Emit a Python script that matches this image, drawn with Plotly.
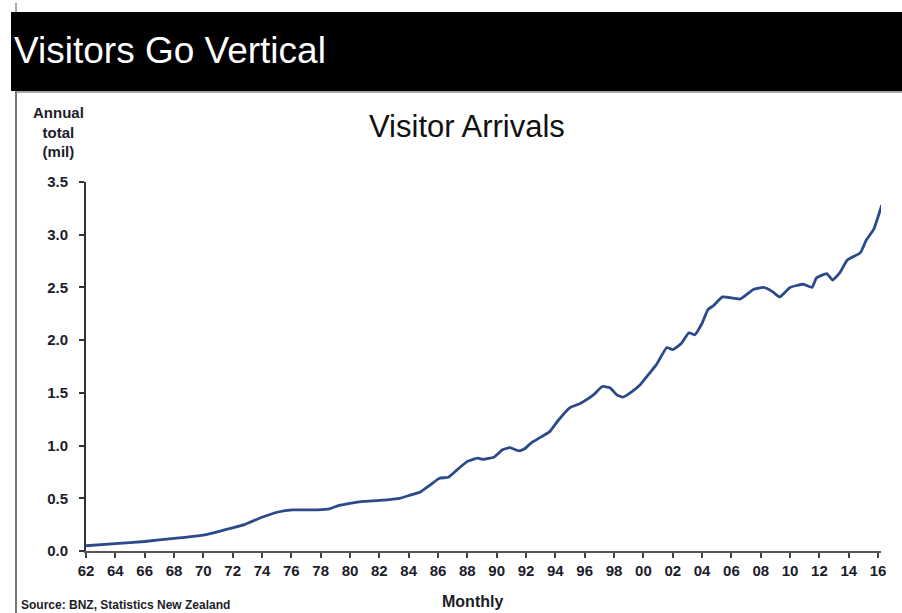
import plotly.graph_objects as go

# Visitor arrivals, annual total (millions)
years = [1962.0, 1964.0, 1966.0, 1968.0, 1968.75, 1970.0, 1972.0, 1972.8, 1974.0, 1975.1,
         1976.1, 1977.8, 1978.6, 1979.2, 1980.1, 1980.9, 1982.0, 1983.4, 1984.1, 1984.8,
         1985.5, 1986.1, 1986.7, 1987.3, 1988.0, 1988.7, 1989.1, 1989.8, 1990.4, 1990.9,
         1991.5, 1991.9, 1992.4, 1993.0, 1993.6, 1994.2, 1995.0, 1995.7, 1996.6, 1997.2,
         1997.7, 1998.2, 1998.6, 1999.2, 1999.8, 2000.5, 2000.9, 2001.6, 2002.0, 2002.6,
         2003.1, 2003.5, 2004.0, 2004.4, 2004.8, 2005.4, 2006.6, 2007.5, 2008.2, 2008.8,
         2009.3, 2010.0, 2010.9, 2011.5, 2011.8, 2012.5, 2012.9, 2013.4, 2013.9, 2014.8,
         2015.2, 2015.7, 2016.25]
arrivals = [0.05, 0.07, 0.09, 0.12, 0.13, 0.15, 0.22, 0.25, 0.32, 0.37,
            0.39, 0.39, 0.40, 0.43, 0.455, 0.47, 0.48, 0.50, 0.53, 0.56,
            0.63, 0.69, 0.70, 0.77, 0.85, 0.88, 0.87, 0.89, 0.96, 0.98,
            0.95, 0.97, 1.03, 1.08, 1.13, 1.24, 1.36, 1.40, 1.48, 1.56,
            1.55, 1.48, 1.46, 1.51, 1.58, 1.70, 1.77, 1.93, 1.91, 1.97,
            2.07, 2.05, 2.16, 2.29, 2.33, 2.41, 2.39, 2.48, 2.50, 2.46,
            2.41, 2.50, 2.53, 2.50, 2.59, 2.63, 2.57, 2.64, 2.76, 2.83,
            2.95, 3.05, 3.28]

x_tick_vals = list(range(1962, 2017, 2))
x_tick_text = [f"{y % 100:02d}" for y in x_tick_vals]
y_tick_vals = [0, 0.5, 1.0, 1.5, 2.0, 2.5, 3.0, 3.5]
y_tick_text = ["0.0", "0.5", "1.0", "1.5", "2.0", "2.5", "3.0", "3.5"]

W, H = 902, 613
L, R, T, B = 86, 881, 182, 551  # plot area in pixels


def px(x):
    return (x - L) / (R - L)


def py(y):
    return (B - y) / (B - T)


FONT = "Liberation Sans, Arial, sans-serif"
TXT = "#1c1c2a"

fig = go.Figure()
fig.add_trace(go.Scatter(
    x=years, y=arrivals, mode="lines",
    line=dict(color="#2a4a8c", width=2.8, shape="spline", smoothing=0.4),
    hoverinfo="skip", showlegend=False,
))

fig.update_layout(
    width=W, height=H,
    margin=dict(l=L, r=W - R, t=T, b=H - B, pad=0),
    paper_bgcolor="white", plot_bgcolor="white",
    font=dict(family=FONT, color=TXT),
    showlegend=False,
    xaxis=dict(
        range=[1962, 2016.2], tickmode="array", tickvals=x_tick_vals, ticktext=x_tick_text,
        showgrid=False, zeroline=False, showline=True, linecolor="#555555", linewidth=2,
        ticks="outside", ticklen=5, tickwidth=1.5, tickcolor="#444444",
        tickfont=dict(family=FONT, size=15, color=TXT, weight="bold"),
        fixedrange=True,
    ),
    yaxis=dict(
        range=[0, 3.5], tickmode="array", tickvals=y_tick_vals, ticktext=y_tick_text,
        showgrid=False, zeroline=False, showline=True, linecolor="#333333", linewidth=1.8,
        ticks="outside", ticklen=5, tickwidth=1.5, tickcolor="#333333",
        ticklabelstandoff=8,
        tickfont=dict(family=FONT, size=15, color=TXT, weight="bold"),
        fixedrange=True,
    ),
    shapes=[
        # black header bar
        dict(type="rect", xref="paper", yref="paper",
             x0=px(11), x1=px(905), y0=py(91), y1=py(12),
             fillcolor="black", line=dict(width=0), layer="above"),
        # frame border
        dict(type="line", xref="paper", yref="paper",
             x0=px(16), x1=px(16), y0=py(91), y1=py(620),
             line=dict(color="#777777", width=2)),
        dict(type="line", xref="paper", yref="paper",
             x0=px(16), x1=px(905), y0=py(92), y1=py(92),
             line=dict(color="#888888", width=1.5)),
        dict(type="line", xref="paper", yref="paper",
             x0=px(16), x1=px(16), y0=py(3), y1=py(12),
             line=dict(color="#888888", width=1.5)),
    ],
    annotations=[
        dict(text="Visitors Go Vertical", xref="paper", yref="paper",
             x=px(12), y=py(50), xanchor="left", yanchor="middle", showarrow=False,
             font=dict(family=FONT, size=37, color="white")),
        dict(text="Visitor Arrivals", xref="paper", yref="paper",
             x=px(467), y=py(127), xanchor="center", yanchor="middle", showarrow=False,
             font=dict(family=FONT, size=31, color="#111111")),
        dict(text="Annual<br>total<br>(mil)", xref="paper", yref="paper",
             x=px(58), y=py(132), xanchor="center", yanchor="middle", showarrow=False,
             align="center",
             font=dict(family=FONT, size=15, color=TXT, weight="bold")),
        dict(text="Monthly", xref="paper", yref="paper",
             x=px(472), y=py(601), xanchor="center", yanchor="middle", showarrow=False,
             font=dict(family=FONT, size=16, color=TXT, weight="bold")),
        dict(text="Source: BNZ, Statistics New Zealand", xref="paper", yref="paper",
             x=px(19), y=py(605), xanchor="left", yanchor="middle", showarrow=False,
             font=dict(family=FONT, size=12, color=TXT, weight="bold")),
    ],
)

fig.write_html("out.html", config={"displayModeBar": False},
               post_script="document.body.style.margin='0';")
